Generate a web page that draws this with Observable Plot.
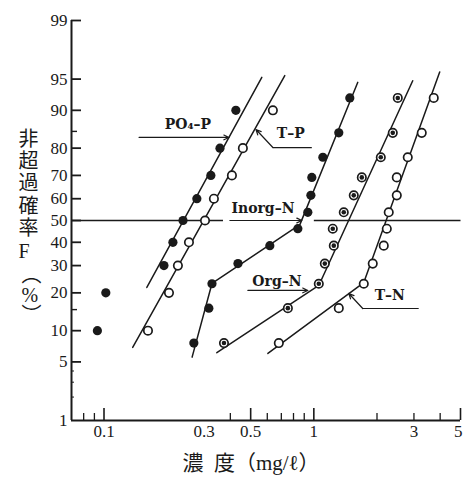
<!DOCTYPE html>
<html>
<head>
<meta charset="utf-8">
<script src="https://cdn.jsdelivr.net/npm/d3@7"></script>
<script src="https://cdn.jsdelivr.net/npm/@observablehq/plot@0.6"></script>
<style>
  html, body { margin: 0; padding: 0; background: #fff; }
</style>
</head>
<body>
<div id="chart"></div>
<script>
// ---------- data (concentration mg/l, non-exceedance probability %) ----------
const pPct = [10, 20, 30, 40, 50, 60, 70, 80, 90];
const nPct = [7.7, 15.4, 23.1, 30.8, 38.5, 46.2, 53.8, 61.5, 69.2, 76.9, 84.6, 92.3];

const po4pConc  = [0.093, 0.102, 0.193, 0.213, 0.238, 0.277, 0.323, 0.357, 0.425];
const tpConc    = [0.162, 0.204, 0.225, 0.254, 0.303, 0.334, 0.407, 0.459, 0.638];
const inorgConc = [0.268, 0.316, 0.327, 0.435, 0.617, 0.839, 0.936, 0.968, 0.978, 1.104, 1.315, 1.484];
const orgConc   = [0.373, 0.752, 1.056, 1.128, 1.245, 1.231, 1.389, 1.550, 1.693, 2.085, 2.378, 2.512];
const tnConc    = [0.681, 1.315, 1.730, 1.909, 2.154, 2.227, 2.275, 2.485, 2.485, 2.803, 3.268, 3.728];

// fitted lines (vertices)
const po4pLineConc  = [0.160, 0.565];          const po4pLinePct  = [21.8, 95.2];
const tpLineConc    = [0.137, 0.727];          const tpLinePct    = [7.0, 95.4];
const inorgLineConc = [0.263, 0.327, 0.858, 1.620]; const inorgLinePct = [5.6, 23.2, 48.1, 94.6];
const orgLineConc   = [0.345, 1.056, 2.960];   const orgLinePct   = [6.2, 22.5, 94.8];
const tnLineConc    = [0.604, 1.730, 3.98];    const tnLinePct    = [6.1, 23.5, 95.8];

// 50 % reference line pieces
const refPct = 50;
const refPieces = [[0.07, 0.369], [1.0, 5.0]];

// axis ticks
const yTickPct   = [99, 95, 90, 80, 70, 60, 50, 40, 30, 20, 10, 5, 1];
const yMajorPct  = [99, 95, 90, 80, 70, 60, 50, 40, 30, 20, 10, 5];
const yMinorPct  = [85, 15];
const yTinyPct   = [4, 3, 2];
const xTickLabels = [0.1, 0.3, 0.5, 1, 3];
const xLastLabel = [5];
const xMajor = [0.1, 0.5, 1, 5];
const xMinor = [0.08, 0.09, 0.4, 0.6, 0.7, 0.8, 0.9, 2, 3, 4];

// annotations
const labelText = ["PO\u2084\u2013P", "T\u2013P", "Inorg\u2013N", "Org\u2013N", "T\u2013N"];
const labelConc = [0.251, 0.777, 0.572, 0.667, 2.30];
const labelPct  = [86.8, 84.4, 55.5, 23.9, 19.2];
// straight arrows [conc1, pct1, conc2, pct2]
const arrows = [
  [0.147, 83.3, 0.394, 83.3],   // PO4-P
  [0.398, 50, 0.877, 50],       // Inorg-N
  [0.485, 20.8, 0.936, 20.8],   // Org-N
  [0.638, 80.2, 0.530, 85.5],   // T-P (diagonal to tip)
  [1.71, 15.3, 1.468, 19.8]     // T-N (diagonal to tip)
];
const leaders = [
  [[0.638, 80.2], [0.978, 80.2]],  // T-P horizontal
  [[1.71, 15.3], [3.16, 15.3]]     // T-N horizontal
];

// ---------- probability transform ----------
function probit(p) {
  const a = [-3.969683028665376e+01, 2.209460984245205e+02, -2.759285104469687e+02, 1.383577518672690e+02, -3.066479806614716e+01, 2.506628277459239e+00];
  const b = [-5.447609879822406e+01, 1.615858368580409e+02, -1.556989798598866e+02, 6.680131188771972e+01, -1.328068155288572e+01];
  const c = [-7.784894002430293e-03, -3.223964580411365e-01, -2.400758277161838e+00, -2.549732539343734e+00, 4.374664141464968e+00, 2.938163982698783e+00];
  const d = [7.784695709041462e-03, 3.224671290700398e-01, 2.445134137142996e+00, 3.754408661907416e+00];
  const plow = 0.02425, phigh = 1 - plow;
  let q, r;
  if (p < plow) {
    q = Math.sqrt(-2 * Math.log(p));
    return (((((c[0]*q+c[1])*q+c[2])*q+c[3])*q+c[4])*q+c[5]) / ((((d[0]*q+d[1])*q+d[2])*q+d[3])*q+1);
  }
  if (p <= phigh) {
    q = p - 0.5; r = q * q;
    return (((((a[0]*r+a[1])*r+a[2])*r+a[3])*r+a[4])*r+a[5])*q / (((((b[0]*r+b[1])*r+b[2])*r+b[3])*r+b[4])*r+1);
  }
  q = Math.sqrt(-2 * Math.log(1 - p));
  return -(((((c[0]*q+c[1])*q+c[2])*q+c[3])*q+c[4])*q+c[5]) / ((((d[0]*q+d[1])*q+d[2])*q+d[3])*q+1);
}
const z = pct => probit(pct / 100);

const pts = (conc, pct) => conc.map((c, i) => ({c, p: pct[i]}));
const W = 463, H = 480;
const mL = 71, mR = 3, mT = 20, mB = 60;
const frameW = W - mL - mR, frameH = H - mT - mB;

const ink = "#1a1a1a";
const serif = "Liberation Serif, 'Noto Sans CJK JP', serif";
const labelFont = "DejaVu Serif, serif";

const lineOpts = {x: "c", y: d => z(d.p), stroke: ink, strokeWidth: 1.5};

const chart = Plot.plot({
  width: W, height: H,
  marginLeft: mL, marginRight: mR, marginTop: mT, marginBottom: mB,
  x: {type: "log", domain: [0.07, 5], axis: null},
  y: {type: "linear", domain: [z(1), z(99)], axis: null},
  style: {background: "white", color: ink},
  marks: [
    // axes
    Plot.ruleX([0.07], {stroke: ink, strokeWidth: 2}),
    Plot.ruleY([z(1)], {stroke: ink, strokeWidth: 2}),
    Plot.tickY(yMajorPct, {y: z, insetRight: frameW - 10, stroke: ink, strokeWidth: 1.8}),
    Plot.tickY(yMinorPct, {y: z, insetRight: frameW - 6, stroke: ink, strokeWidth: 1.4}),
    Plot.tickY(yTinyPct, {y: z, insetRight: frameW - 3, stroke: ink, strokeWidth: 1}),
    Plot.tickX(xMajor, {x: d => d, insetTop: frameH - 12, stroke: ink, strokeWidth: 1.6}),
    Plot.tickX(xMinor, {x: d => d, insetTop: frameH - 7, stroke: ink, strokeWidth: 1.3}),
    Plot.text(yTickPct, {y: z, text: d => String(d), frameAnchor: "left", textAnchor: "end", dx: -4,
      fontSize: 17, fontFamily: serif, fill: ink}),
    Plot.text(xTickLabels, {x: d => d, text: d => String(d), frameAnchor: "bottom", dy: 16,
      fontSize: 17, fontFamily: serif, fill: ink}),
    Plot.text(xLastLabel, {x: d => d, text: d => String(d), frameAnchor: "bottom", dy: 16, dx: 2,
      textAnchor: "end", fontSize: 17, fontFamily: serif, fill: ink}),
    // axis titles
    Plot.text(["非\n超\n過\n確\n率\nF"], {frameAnchor: "left", dx: -53, dy: -26, lineHeight: 1.12,
      fontSize: 20, fontFamily: serif, fill: ink}),
    Plot.text(["\uFE35\n%\n\uFE36"], {frameAnchor: "left", dx: -50, dy: 75, lineHeight: 1.02,
      fontSize: 20, fontFamily: serif, fill: ink}),
    Plot.text(["濃\u2002度（mg/ℓ）"], {frameAnchor: "bottom", dx: -15, dy: 49, fontSize: 21, fontFamily: serif, fill: ink}),
    // 50% reference line
    Plot.link(refPieces, {x1: d => d[0], x2: d => d[1], y1: () => z(refPct), y2: () => z(refPct), stroke: ink, strokeWidth: 1.4}),
    // fitted lines
    Plot.line(pts(po4pLineConc, po4pLinePct), lineOpts),
    Plot.line(pts(tpLineConc, tpLinePct), lineOpts),
    Plot.line(pts(inorgLineConc, inorgLinePct), lineOpts),
    Plot.line(pts(orgLineConc, orgLinePct), lineOpts),
    Plot.line(pts(tnLineConc, tnLinePct), lineOpts),
    // annotation leaders and arrows
    Plot.link(leaders, {x1: d => d[0][0], y1: d => z(d[0][1]), x2: d => d[1][0], y2: d => z(d[1][1]), stroke: ink, strokeWidth: 1.2}),
    Plot.arrow(arrows, {x1: d => d[0], y1: d => z(d[1]), x2: d => d[2], y2: d => z(d[3]),
      stroke: ink, strokeWidth: 1.2, headLength: 7, headAngle: 50}),
    Plot.text(labelText, {x: (d, i) => labelConc[i], y: (d, i) => z(labelPct[i]), text: d => d,
      fontSize: 14, fontWeight: "bold", fontFamily: labelFont, fill: ink}),
    // points
    Plot.dot(pts(po4pConc, pPct), {x: "c", y: d => z(d.p), r: 4.6, fill: ink}),
    Plot.dot(pts(tpConc, pPct), {x: "c", y: d => z(d.p), r: 4.2, fill: "white", stroke: ink, strokeWidth: 1.7}),
    Plot.dot(pts(inorgConc, nPct), {x: "c", y: d => z(d.p), r: 4.6, fill: ink}),
    Plot.dot(pts(orgConc, nPct), {x: "c", y: d => z(d.p), r: 4.2, fill: "white", stroke: ink, strokeWidth: 1.7}),
    Plot.dot(pts(orgConc, nPct), {x: "c", y: d => z(d.p), r: 2.3, fill: ink}),
    Plot.dot(pts(tnConc, nPct), {x: "c", y: d => z(d.p), r: 4.2, fill: "white", stroke: ink, strokeWidth: 1.7})
  ]
});
document.getElementById("chart").appendChild(chart);
</script>
</body>
</html>
